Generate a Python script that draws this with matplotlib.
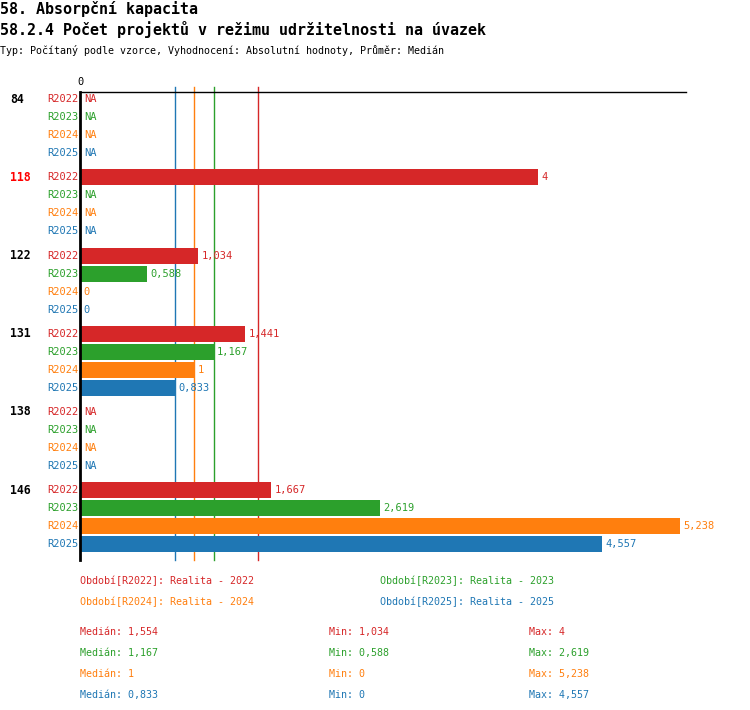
import numpy as np
import matplotlib
matplotlib.use("Agg")
import matplotlib.pyplot as plt
from matplotlib.transforms import blended_transform_factory

plt.rcParams['font.family'] = ['DejaVu Sans Mono', 'DejaVu Sans']

groups = ["84", "118", "122", "131", "138", "146"]
highlight = "118"
series = ["R2022", "R2023", "R2024", "R2025"]
series_names = ["Realita - 2022", "Realita - 2023", "Realita - 2024", "Realita - 2025"]
colors = ["#d62728", "#2ca02c", "#ff7f0e", "#1f77b4"]
nan = np.nan
r2022 = [nan, 4, 1.034, 1.441, nan, 1.667]
r2023 = [nan, nan, 0.588, 1.167, nan, 2.619]
r2024 = [nan, nan, 0, 1, nan, 5.238]
r2025 = [nan, nan, 0, 0.833, nan, 4.557]
values = [r2022, r2023, r2024, r2025]

title1 = "58. Absorpční kapacita"
title2 = "58.2.4 Počet projektů v režimu udržitelnosti na úvazek"
subtitle = "Typ: Počítaný podle vzorce, Vyhodnocení: Absolutní hodnoty, Průměr: Medián"


def fmt(v):
    s = f"{v:.3f}".rstrip('0').rstrip('.')
    return s.replace('.', ',')


W, H = 750, 710
fig = plt.figure(figsize=(W / 100, H / 100), dpi=100)
ax_left, ax_right, ax_top, ax_bot = 80, 686, 92, 560
ax = fig.add_axes([ax_left / W, 1 - ax_bot / H, (ax_right - ax_left) / W, (ax_bot - ax_top) / H])

gstep = 4.344
xmax = 5.293
ax.set_xlim(0, xmax)
ax.set_ylim(25.6, -0.4)

bt = blended_transform_factory(fig.transFigure, ax.transData)
fs = 7.5

for g, grp in enumerate(groups):
    base = g * gstep
    ax.text(10 / W, base, grp, transform=bt, ha='left', va='center', fontsize=8.3,
            fontweight='bold', color=('#ff0000' if grp == highlight else 'black'))
    for s in range(4):
        y = base + s
        v = values[s][g]
        ax.text(78 / W, y, series[s], transform=bt, ha='right', va='center', fontsize=fs, color=colors[s])
        if np.isnan(v):
            ax.text(0.04, y, "NA", ha='left', va='center', fontsize=fs, color=colors[s])
        else:
            ax.barh(y, v, height=0.89, color=colors[s], zorder=3)
            ax.text(v + 0.03, y, fmt(v), ha='left', va='center', fontsize=fs, color=colors[s], zorder=4)

# median lines
medians = [np.nanmedian(v) for v in values]
mins = [np.nanmin(v) for v in values]
maxs = [np.nanmax(v) for v in values]
for s in range(4):
    ax.plot([medians[s], medians[s]], [-0.68, 25.6], color=colors[s], lw=1, zorder=2, clip_on=False)

for sp in ['right', 'bottom']:
    ax.spines[sp].set_visible(False)
ax.spines['left'].set_linewidth(2)
ax.spines['left'].set_zorder(5)
ax.spines['top'].set_linewidth(1)
ax.set_xticks([])
ax.set_yticks([])
ax.text(0, -0.7, "0", ha='center', va='bottom', fontsize=fs)

# titles
fig.text(0, 1 - 9 / H, title1, ha='left', va='center', fontsize=10.8, fontweight='bold')
fig.text(0, 1 - 30 / H, title2, ha='left', va='center', fontsize=10.8, fontweight='bold')
fig.text(0, 1 - 50 / H, subtitle, ha='left', va='center', fontsize=7.2)

# legend
leg_pos = [(80, 581), (380, 581), (80, 602), (380, 602)]
for s in range(4):
    x, y = leg_pos[s]
    fig.text(x / W, 1 - y / H, f"Období[{series[s]}]: {series_names[s]}", ha='left', va='center',
             fontsize=7.2, color=colors[s])

# stats
for s in range(4):
    y = 632 + s * 21
    fig.text(80 / W, 1 - y / H, f"Medián: {fmt(medians[s])}", ha='left', va='center', fontsize=7.2, color=colors[s])
    fig.text(329 / W, 1 - y / H, f"Min: {fmt(mins[s])}", ha='left', va='center', fontsize=7.2, color=colors[s])
    fig.text(529 / W, 1 - y / H, f"Max: {fmt(maxs[s])}", ha='left', va='center', fontsize=7.2, color=colors[s])

fig.savefig("out.png", dpi=100)
